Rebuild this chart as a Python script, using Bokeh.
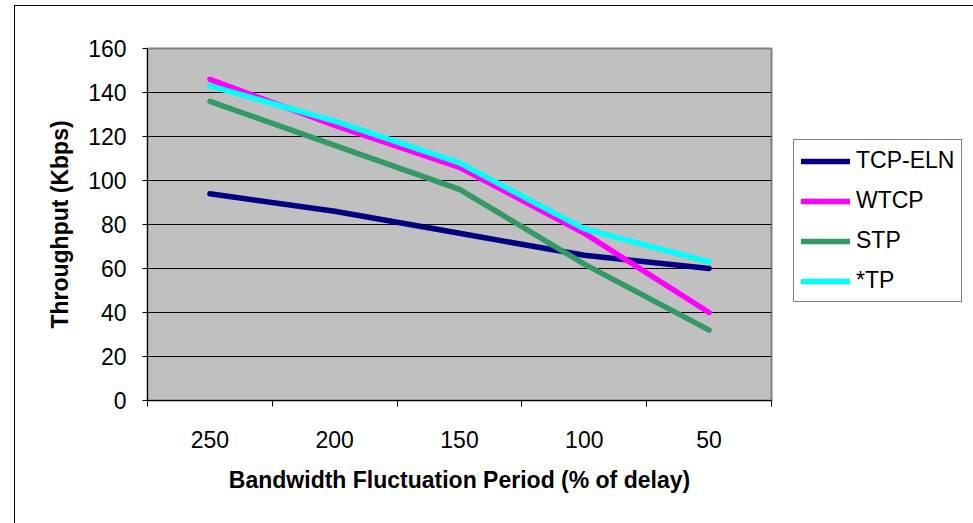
from bokeh.plotting import figure
from bokeh.models import FixedTicker, Legend, LegendItem, Range1d
from bokeh.embed import file_html
from bokeh.resources import INLINE

categories = ["250", "200", "150", "100", "50"]
tcp_eln = [94, 86, 76, 66, 60]
wtcp = [146, 125, 106, 76, 40]
stp = [136, 116, 96, 62, 32]
star_tp = [143, 127, 108, 78, 63]
y_ticks = [0, 20, 40, 60, 80, 100, 120, 140, 160]

series = [("TCP-ELN", tcp_eln, "#000080"),
          ("WTCP", wtcp, "#FF00FF"),
          ("STP", stp, "#339966"),
          ("*TP", star_tp, "#00FFFF")]

FONT = "Liberation Sans"
xs = list(range(len(categories)))

p = figure(width=958, height=517, output_backend="svg", toolbar_location=None,
           x_range=Range1d(-0.5, len(categories) - 0.5), y_range=Range1d(0, 160),
           min_border_left=132, min_border_top=42, min_border_right=202, min_border_bottom=123,
           frame_width=624, frame_height=352)
p.margin = (5, 0, 0, 14)
p.styles = {"border-left": "1px solid #000000", "border-top": "1px solid #000000"}
p.background_fill_color = "#C0C0C0"
p.border_fill_color = "white"
p.outline_line_color = "#808080"
p.outline_line_width = 2

p.xgrid.grid_line_color = None
p.ygrid.grid_line_color = "black"
p.ygrid.grid_line_width = 1
p.ygrid.ticker = FixedTicker(ticks=y_ticks)

# x axis
xa = p.xaxis[0]
xa.ticker = FixedTicker(ticks=xs, minor_ticks=[i - 0.5 for i in range(len(categories) + 1)])
xa.major_label_overrides = {i: c for i, c in enumerate(categories)}
xa.major_tick_out = 0
xa.major_tick_in = 0
xa.minor_tick_out = 6
xa.minor_tick_in = 0
xa.minor_tick_line_color = "black"
xa.axis_line_color = "black"
xa.axis_line_width = 1
xa.major_label_standoff = 24
xa.major_label_text_font = FONT
xa.major_label_text_font_size = "23px"
xa.major_label_text_color = "black"
xa.axis_label = "Bandwidth Fluctuation Period (% of delay)"
xa.axis_label_text_font = FONT
xa.axis_label_text_font_size = "23px"
xa.axis_label_text_font_style = "bold"
xa.axis_label_text_color = "black"
xa.axis_label_standoff = 16

ya = p.yaxis[0]
ya.ticker = FixedTicker(ticks=y_ticks)
ya.major_tick_out = 5
ya.major_tick_in = 0
ya.minor_tick_out = 0
ya.minor_tick_in = 0
ya.major_tick_line_color = "black"
ya.axis_line_color = "black"
ya.major_label_standoff = 16
ya.major_label_text_font = FONT
ya.major_label_text_font_size = "23px"
ya.major_label_text_color = "black"
ya.axis_label = "Throughput (Kbps)"
ya.axis_label_text_font = FONT
ya.axis_label_text_font_size = "23px"
ya.axis_label_text_font_style = "bold"
ya.axis_label_text_color = "black"
ya.axis_label_standoff = 12

items = []
for name, vals, color in series:
    r = p.line(xs, vals, line_color=color, line_width=5.5, line_cap="round", line_join="round")
    items.append(LegendItem(label=name, renderers=[r]))

legend = Legend(items=items, location=(22, 98), orientation="vertical",
                border_line_color="black", border_line_width=1,
                background_fill_color="white", background_fill_alpha=1,
                padding=7, spacing=13, margin=0,
                glyph_width=49, glyph_height=22, label_height=22, label_standoff=6,
                label_text_font=FONT, label_text_font_size="23px", label_text_color="black")
p.add_layout(legend, "right")

open("out.html", "w").write(file_html(p, INLINE))
